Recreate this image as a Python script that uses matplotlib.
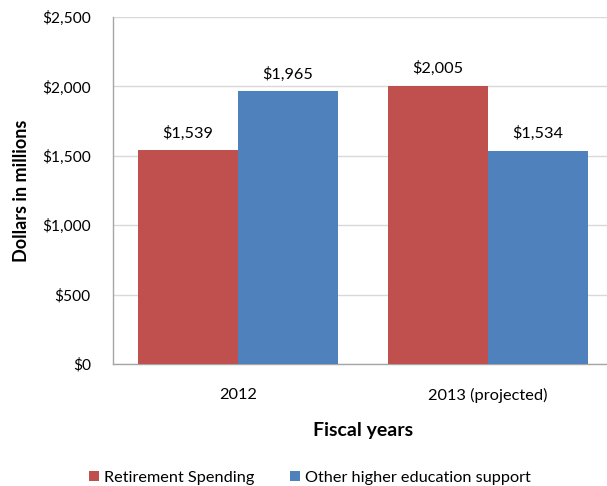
import matplotlib.pyplot as plt
import numpy as np

plt.rcParams['font.family'] = ['Lato', 'DejaVu Sans']

# fiscal years and spending, dollars in millions
years = ['2012', '2013 (projected)']
retirement = [1539, 2005]
other_support = [1965, 1534]
series_names = ['Retirement Spending', 'Other higher education support']
colors = ['#C0504D', '#4F81BD']

fig = plt.figure(figsize=(6.07, 4.86), dpi=100)
ax = fig.add_axes([0.1862, 0.251, 0.8237, 0.714])

x = np.arange(len(years))
w = 0.4
b1 = ax.bar(x - w / 2, retirement, w, color=colors[0], label=series_names[0], zorder=3)
b2 = ax.bar(x + w / 2, other_support, w, color=colors[1], label=series_names[1], zorder=3)

# value labels above each bar
for bars in (b1, b2):
    for r in bars:
        v = r.get_height()
        ax.annotate('${:,.0f}'.format(v), (r.get_x() + r.get_width() / 2, v),
                    xytext=(0, 7), textcoords='offset points',
                    ha='center', va='bottom', fontsize=11.7)

ax.set_xlim(-0.5, 1.5)
ax.set_ylim(0, 2500)
ax.set_yticks(np.arange(0, 2501, 500))
ax.set_yticklabels(['${:,.0f}'.format(t) for t in np.arange(0, 2501, 500)], fontsize=11.2)
ax.set_xticks(x)
ax.set_xticklabels(years, fontsize=11.8)
ax.tick_params(axis='both', length=0)
ax.tick_params(axis='y', pad=16)
ax.tick_params(axis='x', pad=17)

ax.grid(axis='y', color='#D9D9D9', linewidth=1, zorder=0)
for s in ['top', 'right']:
    ax.spines[s].set_visible(False)
for s in ['left', 'bottom']:
    ax.spines[s].set_color('#A6A6A6')
    ax.spines[s].set_linewidth(1)

ax.set_ylabel('Dollars in millions', fontsize=13, fontweight='bold', labelpad=9)
ax.set_xlabel('Fiscal years', fontsize=14, fontweight='bold', labelpad=14)

fig.legend(handles=[b1, b2], loc='lower left', bbox_to_anchor=(0.123, -0.028),
           ncol=2, frameon=False, fontsize=11.7, handlelength=0.6, handleheight=0.6,
           handletextpad=0.3, columnspacing=2.2)

fig.savefig('out.png', dpi=100)
